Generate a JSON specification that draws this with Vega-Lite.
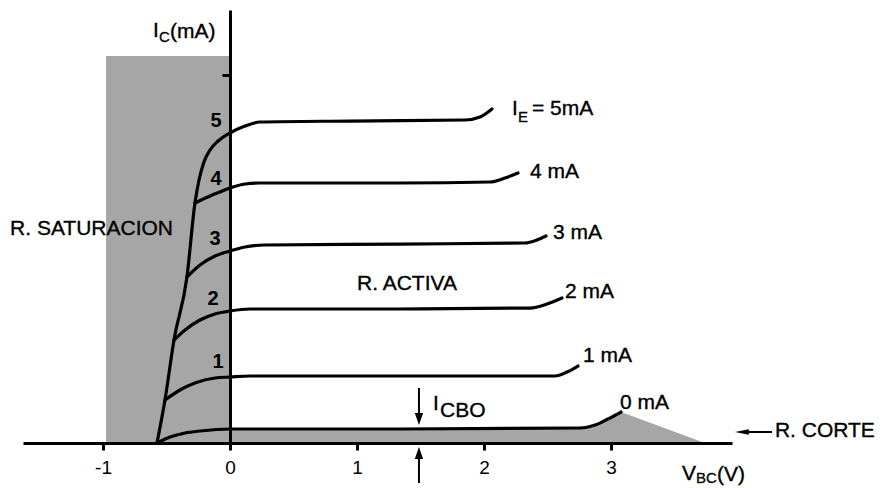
{
  "$schema": "https://vega.github.io/schema/vega-lite/v6.json",
  "width": 709,
  "height": 433,
  "autosize": {"type": "none"},
  "padding": {"left": 23, "top": 10, "right": 148, "bottom": 45},
  "background": "white",
  "config": {"view": {"stroke": null}, "font": "Liberation Sans"},
  "datasets": {
    "curves": [
      {"ie": "5 mA", "x": -0.575, "y": 0},
      {"ie": "5 mA", "x": -0.512, "y": 0.672},
      {"ie": "5 mA", "x": -0.441, "y": 1.609},
      {"ie": "5 mA", "x": -0.339, "y": 2.594},
      {"ie": "5 mA", "x": -0.276, "y": 3.75},
      {"ie": "5 mA", "x": -0.244, "y": 4.109},
      {"ie": "5 mA", "x": -0.205, "y": 4.391},
      {"ie": "5 mA", "x": -0.157, "y": 4.578},
      {"ie": "5 mA", "x": -0.094, "y": 4.719},
      {"ie": "5 mA", "x": 0, "y": 4.844},
      {"ie": "5 mA", "x": 0.118, "y": 4.953},
      {"ie": "5 mA", "x": 0.236, "y": 5.016},
      {"ie": "5 mA", "x": 0.945, "y": 5.031},
      {"ie": "5 mA", "x": 1.85, "y": 5.047},
      {"ie": "5 mA", "x": 1.969, "y": 5.094},
      {"ie": "5 mA", "x": 2.063, "y": 5.219},
      {"ie": "4 mA", "x": -0.276, "y": 3.75},
      {"ie": "4 mA", "x": -0.157, "y": 3.859},
      {"ie": "4 mA", "x": -0.079, "y": 3.922},
      {"ie": "4 mA", "x": 0, "y": 3.984},
      {"ie": "4 mA", "x": 0.118, "y": 4.047},
      {"ie": "4 mA", "x": 0.236, "y": 4.0625},
      {"ie": "4 mA", "x": 1.339, "y": 4.0625},
      {"ie": "4 mA", "x": 2.047, "y": 4.078},
      {"ie": "4 mA", "x": 2.165, "y": 4.141},
      {"ie": "4 mA", "x": 2.268, "y": 4.219},
      {"ie": "3 mA", "x": -0.339, "y": 2.594},
      {"ie": "3 mA", "x": -0.236, "y": 2.781},
      {"ie": "3 mA", "x": -0.118, "y": 2.922},
      {"ie": "3 mA", "x": 0, "y": 3.0},
      {"ie": "3 mA", "x": 0.118, "y": 3.0625},
      {"ie": "3 mA", "x": 0.276, "y": 3.094},
      {"ie": "3 mA", "x": 1.339, "y": 3.109},
      {"ie": "3 mA", "x": 2.323, "y": 3.125},
      {"ie": "3 mA", "x": 2.417, "y": 3.172},
      {"ie": "3 mA", "x": 2.488, "y": 3.234},
      {"ie": "2 mA", "x": -0.441, "y": 1.609},
      {"ie": "2 mA", "x": -0.354, "y": 1.766},
      {"ie": "2 mA", "x": -0.236, "y": 1.922},
      {"ie": "2 mA", "x": -0.118, "y": 2.016},
      {"ie": "2 mA", "x": 0, "y": 2.0625},
      {"ie": "2 mA", "x": 0.157, "y": 2.094},
      {"ie": "2 mA", "x": 1.339, "y": 2.094},
      {"ie": "2 mA", "x": 2.362, "y": 2.109},
      {"ie": "2 mA", "x": 2.496, "y": 2.172},
      {"ie": "2 mA", "x": 2.614, "y": 2.266},
      {"ie": "1 mA", "x": -0.512, "y": 0.672},
      {"ie": "1 mA", "x": -0.394, "y": 0.828},
      {"ie": "1 mA", "x": -0.276, "y": 0.9375},
      {"ie": "1 mA", "x": -0.118, "y": 1.016},
      {"ie": "1 mA", "x": 0, "y": 1.031},
      {"ie": "1 mA", "x": 0.157, "y": 1.047},
      {"ie": "1 mA", "x": 1.339, "y": 1.047},
      {"ie": "1 mA", "x": 2.559, "y": 1.047},
      {"ie": "1 mA", "x": 2.654, "y": 1.109},
      {"ie": "1 mA", "x": 2.74, "y": 1.203},
      {"ie": "0 mA", "x": -0.575, "y": 0},
      {"ie": "0 mA", "x": -0.472, "y": 0.094},
      {"ie": "0 mA", "x": -0.354, "y": 0.156},
      {"ie": "0 mA", "x": -0.236, "y": 0.1875},
      {"ie": "0 mA", "x": 0, "y": 0.219},
      {"ie": "0 mA", "x": 1.339, "y": 0.219},
      {"ie": "0 mA", "x": 2.756, "y": 0.234},
      {"ie": "0 mA", "x": 2.874, "y": 0.281},
      {"ie": "0 mA", "x": 2.976, "y": 0.375},
      {"ie": "0 mA", "x": 3.079, "y": 0.484}
    ],
    "cutoff": [
      {"x": 0, "y": 0.219},
      {"x": 1.339, "y": 0.219},
      {"x": 2.756, "y": 0.234},
      {"x": 2.874, "y": 0.281},
      {"x": 2.976, "y": 0.375},
      {"x": 3.079, "y": 0.484},
      {"x": 3.74, "y": 0}
    ],
    "saturation": [{"x": -0.976, "x2": 0, "y": 0, "y2": 6.047}],
    "texts": [
      {"t": "I", "x": -0.606, "y": 6.344},
      {"t": "(mA)", "x": -0.472, "y": 6.328},
      {"t": "R. SATURACION", "x": -1.732, "y": 3.25},
      {"t": "R. ACTIVA", "x": 1.0, "y": 2.391},
      {"t": "I", "x": 2.22, "y": 5.125},
      {"t": "= 5mA", "x": 2.378, "y": 5.125},
      {"t": "4 mA", "x": 2.362, "y": 4.141},
      {"t": "3 mA", "x": 2.543, "y": 3.1875},
      {"t": "2 mA", "x": 2.638, "y": 2.266},
      {"t": "1 mA", "x": 2.78, "y": 1.266},
      {"t": "0 mA", "x": 3.071, "y": 0.531},
      {"t": "R. CORTE", "x": 4.291, "y": 0.094},
      {"t": "I", "x": 1.598, "y": 0.516},
      {"t": "CBO", "x": 1.654, "y": 0.406},
      {"t": "V", "x": 3.559, "y": -0.578},
      {"t": "(V)", "x": 3.835, "y": -0.594}
    ],
    "subs": [
      {"t": "C", "x": -0.559, "y": 6.266},
      {"t": "E", "x": 2.268, "y": 5.016},
      {"t": "BC", "x": 3.669, "y": -0.625}
    ],
    "nums": [
      {"t": "5", "x": -0.11, "y": 4.9375},
      {"t": "4", "x": -0.11, "y": 4.031},
      {"t": "3", "x": -0.118, "y": 3.094},
      {"t": "2", "x": -0.134, "y": 2.156},
      {"t": "1", "x": -0.094, "y": 1.172}
    ],
    "shafts": [
      {"x": 1.488, "y": 0.859, "x2": 1.488, "y2": 0.4},
      {"x": 1.488, "y": -0.625, "x2": 1.488, "y2": -0.18},
      {"x": 4.05, "y": 0.172, "x2": 4.268, "y2": 0.172}
    ],
    "heads": [
      {"dir": "down", "x": 1.488, "y": 0.375},
      {"dir": "up", "x": 1.488, "y": -0.156},
      {"dir": "left", "x": 4.031, "y": 0.172}
    ]
  },
  "encoding": {
    "x": {
      "field": "x",
      "type": "quantitative",
      "scale": {"domain": [-1.63, 3.953], "nice": false, "zero": false},
      "axis": {
        "orient": "bottom",
        "values": [-1, 0, 1, 2, 3],
        "labelExpr": "toString(datum.value)",
        "domainColor": "black",
        "domainWidth": 3,
        "tickColor": "black",
        "tickWidth": 3,
        "tickSize": 7,
        "labelFont": "Liberation Sans",
        "labelFontSize": 19,
        "labelColor": "black",
        "labelPadding": 8,
        "labelFlush": false,
        "grid": false,
        "title": null,
        "zindex": 1
      }
    },
    "y": {
      "field": "y",
      "type": "quantitative",
      "scale": {"domain": [0, 6.766], "nice": false, "zero": false},
      "axis": {
        "orient": "left",
        "offset": -207,
        "values": [5.75],
        "domainColor": "black",
        "domainWidth": 3,
        "tickColor": "black",
        "tickWidth": 3,
        "tickSize": 8,
        "labels": false,
        "grid": false,
        "title": null,
        "zindex": 1
      }
    }
  },
  "layer": [
    {
      "data": {"name": "saturation"},
      "mark": {"type": "rect", "color": "#a6a6a6"},
      "encoding": {"x2": {"field": "x2"}, "y2": {"field": "y2"}}
    },
    {
      "data": {"name": "cutoff"},
      "mark": {"type": "area", "color": "#a6a6a6", "interpolate": "linear"},
      "encoding": {}
    },
    {
      "data": {"name": "curves"},
      "mark": {"type": "line", "color": "black", "strokeWidth": 3.2, "interpolate": "monotone", "strokeCap": "round", "strokeJoin": "round"},
      "encoding": {"detail": {"field": "ie", "type": "nominal"}}
    },
    {
      "data": {"name": "shafts"},
      "mark": {"type": "rule", "color": "black", "strokeWidth": 2},
      "encoding": {"x2": {"field": "x2"}, "y2": {"field": "y2"}}
    },
    {
      "data": {"name": "heads"},
      "mark": {"type": "point", "filled": true, "color": "black", "opacity": 1, "size": 196, "strokeWidth": 0},
      "encoding": {
        "shape": {
          "field": "dir",
          "type": "nominal",
          "scale": {
            "domain": ["down", "up", "left"],
            "range": ["M-0.6,-0.85L0.6,-0.85L0,0.85Z", "M-0.6,0.85L0.6,0.85L0,-0.85Z", "M-1,0L1,-0.4L1,0.4Z"]
          },
          "legend": null
        }
      }
    },
    {
      "data": {"name": "texts"},
      "mark": {"type": "text", "align": "left", "baseline": "alphabetic", "fontSize": 21, "font": "Liberation Sans", "color": "black", "stroke": "black", "strokeWidth": 0.35},
      "encoding": {"text": {"field": "t", "type": "nominal"}}
    },
    {
      "data": {"name": "subs"},
      "mark": {"type": "text", "align": "left", "baseline": "alphabetic", "fontSize": 15, "font": "Liberation Sans", "color": "black", "stroke": "black", "strokeWidth": 0.3},
      "encoding": {"text": {"field": "t", "type": "nominal"}}
    },
    {
      "data": {"name": "nums"},
      "mark": {"type": "text", "align": "center", "baseline": "alphabetic", "fontSize": 20, "fontWeight": "bold", "font": "Liberation Sans", "color": "black"},
      "encoding": {"text": {"field": "t", "type": "nominal"}}
    }
  ]
}
